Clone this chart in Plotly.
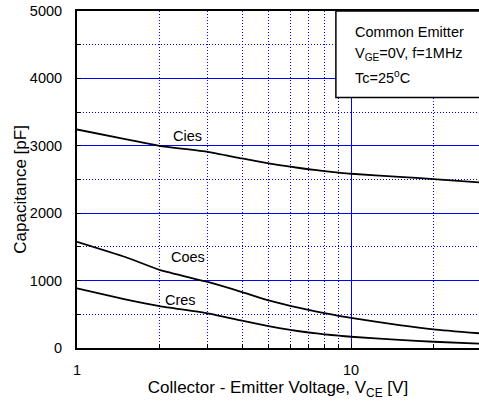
import plotly.graph_objects as go
import math

# Data
vce = [1, 1.5, 2, 3, 4, 5, 6, 7, 8, 9, 10, 15, 20, 30]
cies = [3242, 3100, 3000, 2910, 2812, 2740, 2690, 2652, 2625, 2603, 2585, 2540, 2505, 2455]
coes = [1576, 1350, 1160, 980, 830, 705, 625, 565, 518, 478, 446, 340, 277, 215]
cres = [885, 723, 622, 514, 405, 325, 268, 230, 203, 183, 167, 120, 93, 62]

curve_labels = ["Cies", "Coes", "Cres"]
label_pos_x = [2.54, 2.54, 2.38]
label_pos_y = [3143, 1349, 712]

y_ticks = [0, 1000, 2000, 3000, 4000, 5000]
x_ticks = [1, 10]
x_minor = [2, 3, 4, 5, 6, 7, 8, 9, 20]

FONT = "Liberation Sans, Arial, sans-serif"
BLUE = "#0000ff"

fig = go.Figure()
for ys in (cies, coes, cres):
    fig.add_trace(go.Scatter(x=vce, y=ys, mode="lines",
                             line=dict(color="black", width=1.8, shape="spline", smoothing=0.5),
                             showlegend=False, hoverinfo="skip"))

for t, x, y in zip(curve_labels, label_pos_x, label_pos_y):
    fig.add_annotation(x=math.log10(x), y=y, xref="x", yref="y", text=t, showarrow=False,
                       font=dict(size=14.5, color="black", family=FONT))

# Info box
fig.add_shape(type="rect", xref="paper", yref="paper", x0=0.644, x1=1.05, y0=0.743, y1=1.0,
              line=dict(color="black", width=1.5), fillcolor="white", layer="above")
box_lines = ["Common Emitter", "V<sub>GE</sub>=0V, f=1MHz", "Tc=25<sup>o</sup>C"]
box_y = [0.937, 0.873, 0.803]
for t, y in zip(box_lines, box_y):
    fig.add_annotation(x=0.686, y=y, xref="paper", yref="paper", text=t, showarrow=False,
                       xanchor="left", yanchor="middle", align="left",
                       font=dict(size=14.5, color="black", family=FONT))

# Y axis title
fig.add_annotation(x=-0.14, y=0.472, xref="paper", yref="paper", text="Capacitance [pF]",
                   textangle=-90, showarrow=False, xanchor="center", yanchor="middle",
                   font=dict(size=17, color="black", family=FONT))

fig.update_layout(
    width=479, height=406,
    margin=dict(l=77, r=0, t=11, b=58),
    paper_bgcolor="white", plot_bgcolor="white",
    font=dict(family=FONT, size=14.5, color="black"),
    xaxis=dict(type="log", range=[0, math.log10(29.3)],
               tickvals=x_ticks, ticktext=[str(v) for v in x_ticks],
               showgrid=True, gridcolor=BLUE, gridwidth=1,
               ticks="inside", ticklen=4, tickcolor="black",
               showline=True, linecolor="black", linewidth=2, mirror=True,
               ticklabelstandoff=8,
               minor=dict(tickvals=x_minor, showgrid=True, gridcolor=BLUE, griddash="1px,2px",
                          gridwidth=1, ticks="inside", ticklen=4, tickcolor="black"),
               title=dict(text="Collector - Emitter Voltage, V<sub>CE</sub> [V]",
                          font=dict(size=17, family=FONT), standoff=4),
               zeroline=False),
    yaxis=dict(range=[0, 5000], tickvals=y_ticks,
               showgrid=True, gridcolor=BLUE, gridwidth=1,
               ticks="inside", ticklen=4, tickcolor="black",
               showline=True, linecolor="black", linewidth=2, mirror=False,
               ticklabelstandoff=10,
               minor=dict(dtick=500, showgrid=True, gridcolor=BLUE, griddash="1px,2px",
                          gridwidth=1, ticks="inside", ticklen=4, tickcolor="black"),
               zeroline=False),
)

# Remove the page body's default 8px margin so the chart sits at the window's top-left.
fig.write_html("out.html", config={"displayModeBar": False},
               post_script="document.body.style.margin='0px';")
